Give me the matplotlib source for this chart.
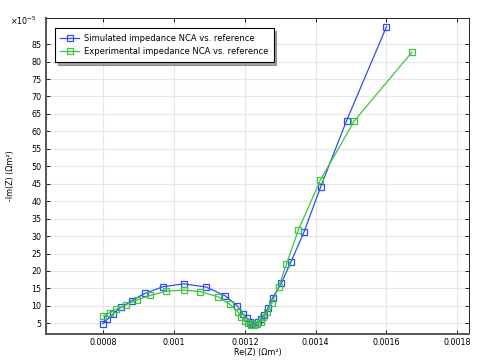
import matplotlib
matplotlib.use("Agg")
import matplotlib.pyplot as plt
from matplotlib.ticker import FixedLocator, FuncFormatter

# Real part (Ohm m^2) and -Imag part (in units of 1e-5 Ohm m^2)
re_sim = [0.000798, 0.000811, 0.000828, 0.000850, 0.000880, 0.000918, 0.000969,
          0.001028, 0.001090, 0.001144, 0.001178, 0.001195, 0.001205, 0.001213,
          0.001220, 0.001228, 0.001236, 0.001245, 0.001255, 0.001265, 0.001278,
          0.001303, 0.001330, 0.001367, 0.001414, 0.001487, 0.001600]
im_sim = [4.9, 6.1, 7.7, 9.6, 11.5, 13.6, 15.5,
          16.3, 15.4, 12.9, 10.0, 7.6, 6.4, 5.5,
          4.9, 4.8, 5.3, 6.2, 7.4, 9.3, 12.3,
          16.5, 22.6, 31.2, 44.1, 63.0, 90.0]

re_exp = [0.000800, 0.000819, 0.000837, 0.000863, 0.000895, 0.000933, 0.000976,
          0.001028, 0.001073, 0.001124, 0.001158, 0.001181, 0.001190, 0.001200,
          0.001208, 0.001217, 0.001225, 0.001233, 0.001244, 0.001252, 0.001262,
          0.001276, 0.001295, 0.001317, 0.001351, 0.001413, 0.001509, 0.001672]
im_exp = [7.2, 8.0, 9.1, 10.2, 11.7, 13.0, 14.2,
          14.5, 14.1, 12.6, 10.4, 8.2, 6.9, 5.8,
          5.0, 4.6, 4.5, 4.7, 5.5, 6.8, 8.2,
          10.7, 15.3, 21.9, 31.7, 46.0, 63.0, 82.7]

x_ticks = [0.0008, 0.001, 0.0012, 0.0014, 0.0016, 0.0018]
y_ticks = list(range(5, 90, 5))

label_sim = "Simulated impedance NCA vs. reference"
label_exp = "Experimental impedance NCA vs. reference"

fs = 5.8
fig = plt.figure(figsize=(4.79, 3.6), dpi=100)
ax = fig.add_axes([45.7 / 479, 1 - 333.7 / 360, (469.3 - 45.7) / 479, (333.7 - 18.3) / 360])

scale = 1e-5
ax.plot(re_sim, [v * scale for v in im_sim], color="#2f4ff5", lw=0.9,
        marker="s", ms=4.2, mfc="none", mec="#2f4ff5", mew=0.9, label=label_sim)
ax.plot(re_exp, [v * scale for v in im_exp], color="#3fc43f", lw=0.9,
        marker="s", ms=4.2, mfc="none", mec="#3fc43f", mew=0.9, label=label_exp)

ax.set_xlim(0.000637, 0.001834)
ax.set_ylim(2.02e-5, 92.4e-5)
ax.xaxis.set_major_locator(FixedLocator(x_ticks))
ax.xaxis.set_major_formatter(FuncFormatter(lambda v, p: "%g" % round(v, 6)))
ax.yaxis.set_major_locator(FixedLocator([t * scale for t in y_ticks]))
ax.yaxis.set_major_formatter(FuncFormatter(lambda v, p: "%g" % round(v / scale, 4)))

ax.grid(True, color="#e6e6e6", lw=0.8)
ax.set_axisbelow(True)
ax.tick_params(direction="in", top=True, right=True, labelsize=fs, length=3,
               width=0.6, pad=3, colors="black")
for s in ["top", "right"]:
    ax.spines[s].set_linewidth(0.6)
for s in ["left", "bottom"]:
    ax.spines[s].set_linewidth(1.4)
    ax.spines[s].set_color("#555555")

fig.text(10 / 479, 1 - 27 / 360, r"$\times10^{-5}$", fontsize=fs, ha="left", va="bottom")

ax.set_xlabel("Re(Z) (Ωm²)", fontsize=fs, labelpad=1)
ax.set_ylabel("-Im(Z) (Ωm²)", fontsize=fs, labelpad=12)

leg = ax.legend(loc="upper left", bbox_to_anchor=(0.022, 0.968), borderaxespad=0,
                fontsize=fs + 0.2, frameon=True, fancybox=False, shadow=True,
                borderpad=0.65, handlelength=2.2, handletextpad=0.6,
                labelspacing=0.55, edgecolor="black")
leg.get_frame().set_linewidth(0.8)

fig.savefig("out.png", dpi=100)
